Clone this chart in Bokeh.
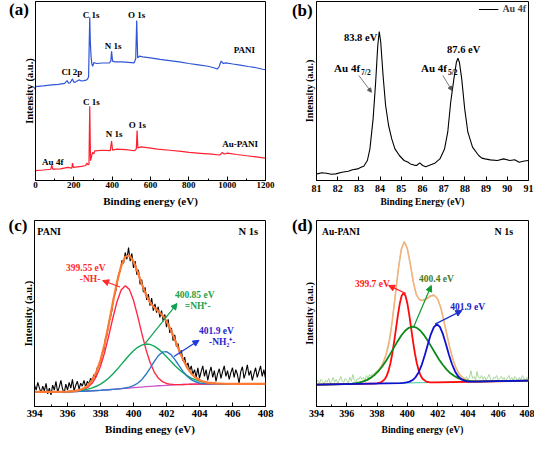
import numpy as np
from bokeh.plotting import figure
from bokeh.layouts import row, column
from bokeh.models import Label, Arrow, NormalHead, FixedTicker, SingleIntervalTicker, Range1d
from bokeh.embed import file_html
from bokeh.resources import INLINE

FONT = "Liberation Serif"

# ---------------- (a) XPS survey ----------------
pani_e = [0, 40, 85, 120, 152, 165, 172, 180, 193, 200, 210, 227, 240, 252, 265, 272, 277, 283, 286, 290,
          294, 298, 305, 318, 350, 385, 393, 397, 402, 415, 452, 515, 523, 528, 533, 543, 560, 600, 650, 700,
          750, 800, 850, 900, 930, 948, 958, 968, 980, 993, 1030, 1068, 1110, 1152, 1185, 1200]
pani_i = [95, 95.6, 96.7, 97.2, 98.3, 101, 98.5, 98.6, 102.7, 99.2, 99.8, 101.7, 100.6, 101, 101.5, 102.7, 105, 165, 140, 125,
          118, 115.5, 119.3, 118.3, 118.8, 119, 120.7, 130.7, 120.7, 120, 120, 119, 123.3, 161.7, 124, 125.7, 125, 124, 122.5, 121.3,
          120, 118.3, 117, 115.5, 114, 112.7, 115, 120.7, 118.3, 119, 117.8, 116.7, 115.3, 114, 112.5, 112]
aupani_e = [0, 40, 80, 85, 90, 130, 168, 190, 193, 198, 240, 262, 268, 274, 279, 283, 287, 293, 298, 304,
            310, 350, 390, 397, 402, 425, 470, 518, 526, 530, 534, 552, 600, 635, 700, 760, 802, 860, 920, 958,
            966, 973, 985, 1002, 1050, 1102, 1150, 1200]
aupani_i = [10, 10.6, 11.4, 15.5, 11.6, 11.8, 13.3, 12.6, 17.5, 13.2, 14.3, 15.2, 17.7, 15.8, 16.7, 75, 20, 25, 28.3, 27,
            30, 30.6, 30.2, 40, 30.7, 31.7, 31.2, 30.1, 32, 50.5, 33, 34, 32.8, 31.8, 30.6, 29.4, 28.4, 27.5, 26.6, 25.8,
            26.4, 28.3, 26.8, 27.7, 26.3, 25, 23.9, 22.6]
a_ticks_interval = 200

# ---------------- (b) Au 4f ----------------
au4f_e = [81.03, 81.25, 81.47, 81.7, 81.91, 82.2, 82.5, 82.7, 82.94, 83.1, 83.23, 83.4, 83.52, 83.67, 83.79,
          83.89, 83.96, 84.03, 84.14, 84.26, 84.4, 84.55, 84.7, 84.91, 85.13, 85.3, 85.43, 85.6, 85.72, 85.87,
          86.01, 86.15, 86.3, 86.45, 86.6, 86.82, 87.04, 87.19, 87.33, 87.48, 87.6, 87.67, 87.74, 87.85, 87.99,
          88.14, 88.36, 88.65, 88.8, 88.95, 89.2, 89.53, 89.83, 90.12, 90.35, 90.56, 90.8, 91.0]
au4f_i = [6.6, 7.8, 7.3, 6.2, 6.6, 8.3, 9.3, 10.8, 11.6, 13.2, 14.3, 20, 31.6, 61.6, 98.3,
          135, 149, 138.3, 105, 75, 55, 41.6, 31.6, 25, 20, 18.5, 16.6, 15.4, 15, 17.6,
          15, 13.8, 15, 16.2, 17.6, 21.6, 31.6, 48.3, 78.3, 101.6, 118.3, 122.3, 118.3, 101.6, 71.6,
          48.3, 33.3, 25, 22.4, 21.6, 20.6, 20, 21.6, 20, 20.8, 18.3, 19.5, 20]

# ---------------- (c) PANI N 1s ----------------
c_fit_e = [394, 395, 396, 396.5, 396.75, 397, 397.25, 397.5, 397.75, 398, 398.25, 398.5, 398.75, 399, 399.25,
           399.5, 399.75, 400, 400.25, 400.5, 400.75, 401, 401.25, 401.5, 401.75, 402, 402.25, 402.5, 402.75, 403,
           403.25, 403.5, 403.75, 404, 404.25, 404.5, 405, 405.5, 406, 407, 408]
c_base = [15.0, 15.1, 15.3, 15.5, 15.6, 15.8, 16.0, 16.2, 16.45, 16.7, 17.0, 17.3, 17.65, 18.0, 18.35,
          18.7, 19.05, 19.4, 19.75, 20.1, 20.45, 20.8, 21.1, 21.4, 21.65, 21.9, 22.1, 22.3, 22.5, 22.7,
          22.85, 23.0, 23.1, 23.2, 23.25, 23.3, 23.4, 23.4, 23.4, 23.4, 23.4]
c_red = [15.0, 15.1, 15.3, 15.8, 16.4, 17.7, 20.0, 24.2, 31.2, 41.5, 55.7, 72.9, 91.4, 108.2, 120.2,
         124.7, 120.9, 109.6, 93.5, 75.7, 59.2, 45.6, 35.8, 29.4, 25.7, 23.8, 22.9, 22.6, 22.6, 22.7,
         22.85, 23.0, 23.1, 23.2, 23.25, 23.3, 23.4, 23.4, 23.4, 23.4, 23.4]
c_green = [15.0, 15.1, 15.3, 15.9, 16.3, 17.0, 17.9, 19.2, 20.9, 23.1, 25.9, 29.4, 33.6, 38.1, 43.2,
           48.2, 53.2, 57.5, 61.1, 63.4, 64.5, 64.1, 62.4, 59.5, 55.8, 51.4, 46.9, 42.4, 38.4, 34.8,
           31.8, 29.4, 27.5, 26.2, 25.2, 24.5, 23.8, 23.5, 23.4, 23.4, 23.4]
c_blue = [15.0, 15.1, 15.3, 15.5, 15.6, 15.8, 16.0, 16.2, 16.45, 16.7, 17.0, 17.3, 17.65, 18.0, 18.5,
          19.1, 20.0, 21.5, 24.0, 27.7, 33.0, 39.4, 46.3, 52.3, 56.1, 56.6, 53.9, 48.7, 42.4, 36.3,
          31.3, 27.7, 25.5, 24.3, 23.7, 23.5, 23.4, 23.4, 23.4, 23.4, 23.4]
c_env = [15.0, 15.1, 15.4, 16.2, 17.1, 18.9, 21.9, 27.2, 35.6, 47.9, 64.6, 85.0, 107.3, 128.4, 145.1,
         154.6, 155.9, 149.8, 139.0, 126.6, 115.7, 107.5, 102.3, 98.4, 94.2, 88.0, 79.5, 69.1, 58.4, 48.4,
         40.2, 34.1, 29.9, 27.3, 25.6, 24.7, 23.8, 23.5, 23.4, 23.4, 23.4]
c_raw = [22, 17, 25, 19, 14, 21, 16, 24, 13, 19,
         12, 22, 17, 26, 15, 20, 27, 18, 14, 23,
         17, 25, 19, 28, 16, 22, 26, 18, 24, 21,
         27, 20, 26, 23, 29, 27, 33, 30, 40, 42,
         46, 55, 58, 70, 74, 87, 92, 100, 113, 117,
         126, 137, 140, 151, 148, 159, 152, 164, 150, 158,
         143, 150, 136, 141, 126, 131, 118, 123, 110, 116,
         104, 112, 99, 106, 97, 103, 92, 99, 88, 95,
         82, 90, 76, 81, 68, 74, 62, 65, 54, 58,
         47, 51, 41, 45, 37, 42, 33, 38, 30, 40,
         29, 36, 42, 31, 38, 27, 35, 41, 30, 37,
         26, 34, 39, 29, 36, 42, 31, 37, 28, 35,
         40, 30, 38, 33, 24, 36, 41, 29, 35, 43,
         32, 37, 27, 34, 40, 30, 36, 42, 31, 38,
         29]

# ---------------- (d) Au-PANI N 1s ----------------
d_red_e = [394, 397.5, 397.75, 398, 398.25, 398.5, 398.625, 398.75, 398.875, 399, 399.125, 399.25, 399.375,
           399.5, 399.625, 399.75, 399.875, 400, 400.125, 400.25, 400.375, 400.5, 400.625, 400.75, 400.875,
           401, 401.25, 401.5, 401.75, 402, 408]
d_red = [22.5, 23.55, 23.6, 23.9, 24.8, 28.0, 31.3, 36.5, 44.1, 54.2, 66.7, 80.5, 94.3,
         106.3, 114.3, 117.2, 114.4, 106.4, 94.6, 80.8, 67.0, 54.7, 44.6, 37.1, 32.0,
         28.7, 25.7, 24.95, 24.8, 24.9, 26.7]
d_green_e = [394, 395.85, 396.1, 396.35, 396.6, 396.85, 397.1, 397.35, 397.6, 397.85, 398.1, 398.35, 398.6,
             398.85, 399.1, 399.35, 399.6, 399.85, 400.1, 400.35, 400.6, 400.85, 401.1, 401.35, 401.6, 401.85,
             402.1, 402.35, 402.6, 402.85, 403.1, 403.35, 403.6, 403.85, 404.1, 404.35, 404.6, 404.85, 408]
d_green = [22.5, 23.2, 23.4, 23.7, 24.2, 24.9, 25.9, 27.5, 29.8, 32.8, 36.7, 41.6, 47.3,
           53.8, 60.5, 67.2, 73.3, 78.2, 81.2, 82.4, 81.4, 78.5, 73.7, 67.8, 61.3, 54.7,
           48.3, 42.8, 38.1, 34.3, 31.4, 29.3, 27.9, 27.0, 26.4, 26.1, 26.0, 25.9, 26.7]
d_blue_e = [394, 399.55, 399.75, 399.95, 400.15, 400.35, 400.55, 400.75, 400.95, 401.15, 401.35, 401.55, 401.75,
            401.95, 402.15, 402.35, 402.55, 402.75, 402.95, 403.15, 403.35, 403.55, 403.75, 403.95, 404.15,
            404.35, 408]
d_blue = [22.5, 24.2, 24.4, 24.8, 25.7, 27.3, 30.4, 35.4, 43.0, 52.8, 63.9, 74.5, 82.0,
          84.9, 82.2, 74.7, 64.3, 53.2, 43.6, 36.2, 31.2, 28.3, 26.7, 26.0, 25.75,
          25.7, 26.7]
d_base_e = [394, 401, 408]
d_base = [22.5, 24.6, 26.7]
d_env = [22.5, 22.8,
         23.3, 23.5, 23.8, 24.2, 24.7, 25.5, 26.5, 27.9, 29.8, 32.2,
         35.2, 39.3, 45.0, 53.9, 67.7, 88.0, 114.1, 141.3, 162.2, 170.0,
         163.0, 146.5, 128.0, 115.0, 110.5, 109.5, 110.5, 112.5, 114.5, 114.5,
         111.0, 102.5, 89.5, 75.0, 60.8, 49.0, 40.0, 34.0, 30.3, 28.1,
         27.0, 26.4, 26.1, 26.0, 25.9, 25.9,
         26.1, 26.4, 26.7]
d_raw = [25, 27, 24, 28, 26, 23, 27, 25, 29, 24,
         26, 30, 25, 28, 24, 27, 31, 26, 25, 29,
         27, 24, 30, 26, 33, 27, 25, 29, 28, 31,
         28, 30, 27, 32, 29, 33, 31, 34, 33, 36,
         37, 38, 41, 42, 46, 49, 54, 59, 65, 75,
         88, 101, 114, 128, 141, 152, 162, 167, 170, 167,
         163, 155, 147, 137, 128, 121, 116, 112, 110, 109,
         110, 111, 110, 113, 112, 115, 114, 116, 114, 113,
         111, 106, 102, 96, 89, 82, 75, 68, 61, 55,
         50, 45, 41, 38, 35, 33, 31, 30, 29, 31,
         28, 30, 37, 29, 31, 27, 36, 30, 29, 32,
         28, 31, 27, 30, 33, 28, 26, 30, 29, 32,
         27, 29, 31, 28, 30, 26, 29, 32, 28, 30,
         27, 31, 29, 26, 30, 28, 32, 29, 27, 30,
         28]

raw_e = np.round(np.arange(394.0, 408.05, 0.1), 1)
d_env_e = np.concatenate([[394, 395], np.round(np.arange(396.0, 405.05, 0.2), 1), [406, 407, 408]])


def make(w, h, xr, yr, bl, br, bt, bb):
    p = figure(width=w, height=h, x_range=Range1d(*xr), y_range=Range1d(*yr),
               output_backend="svg", toolbar_location=None,
               min_border_left=bl, min_border_right=br, min_border_top=bt, min_border_bottom=bb)
    p.grid.visible = False
    p.outline_line_color = "black"
    p.outline_line_alpha = 1.0
    p.outline_line_width = 1
    p.background_fill_color = "white"
    p.border_fill_color = "white"
    return p


def style(p, xlabel, interval, minor, tick_px, tick_sd, title_px, title_sd, ylab_px, ylab_sd):
    ax = p.xaxis[0]
    ax.ticker = SingleIntervalTicker(interval=interval, num_minor_ticks=minor)
    ax.major_tick_in = 4
    ax.major_tick_out = 0
    ax.minor_tick_in = 2
    ax.minor_tick_out = 0
    ax.axis_line_color = "black"
    ax.major_tick_line_color = "black"
    ax.minor_tick_line_color = "black" if minor else None
    ax.major_label_text_font = FONT
    ax.major_label_text_font_style = "bold"
    ax.major_label_text_font_size = f"{tick_px}px"
    ax.major_label_text_color = "black"
    ax.major_label_standoff = int(tick_sd)
    ax.axis_label = xlabel
    ax.axis_label_text_font = FONT
    ax.axis_label_text_font_style = "bold"
    ax.axis_label_text_font_size = f"{title_px}px"
    ax.axis_label_text_color = "black"
    ax.axis_label_standoff = int(title_sd)
    ay = p.yaxis[0]
    ay.ticker = FixedTicker(ticks=[])
    ay.major_tick_in = 0
    ay.major_tick_out = 0
    ay.minor_tick_in = 0
    ay.minor_tick_out = 0
    ay.major_label_standoff = 0
    ay.major_label_text_font_size = "0px"
    ay.axis_line_color = "black"
    ay.axis_label = "Intensity (a.u.)"
    ay.axis_label_text_font = FONT
    ay.axis_label_text_font_style = "bold"
    ay.axis_label_text_font_size = f"{ylab_px}px"
    ay.axis_label_text_color = "black"
    ay.axis_label_standoff = int(ylab_sd)


def txt(p, x, y, s, size, color="black", align="center", xo=0, yo=0):
    p.add_layout(Label(x=x, y=y, text=s, text_font=FONT, text_font_style="bold",
                       text_font_size=f"{size}px", text_color=color, text_align=align,
                       text_baseline="middle", x_offset=xo, y_offset=yo))


def panel_tag(p, x, y, s, side="left"):
    # a label kept in a side panel is not clipped to the plot frame
    p.add_layout(Label(x=x, y=y, text=s, text_font=FONT,
                       text_font_style="bold", text_font_size="17px", text_color="black",
                       text_align="center", text_baseline="middle"), side)


def arrow(p, x0, y0, x1, y1, color, width=1.2, size=6):
    p.add_layout(Arrow(end=NormalHead(size=size, fill_color=color, line_color=color),
                       x_start=x0, y_start=y0, x_end=x1, y_end=y1,
                       line_color=color, line_width=width))


# ---- panel (a)
pa = make(279, 216, (0, 1200), (0, 181), 25, 14, 1, 34)
style(pa, "Binding energy (eV)", a_ticks_interval, 2, 9, 1, 11, 4, 10.5, 1)
pa.line(pani_e, pani_i, line_color="#2f55d6", line_width=1.2)
pa.line(aupani_e, aupani_i, line_color="#ff1f2f", line_width=1.2)
for (x, y, s) in [(290, 167, "C 1s"), (528, 167, "O 1s"), (405, 136, "N 1s"), (190, 110, "Cl 2p"),
                  (1090, 132, "PANI"), (292, 79, "C 1s"), (410, 47, "N 1s"), (532, 56, "O 1s"),
                  (1068, 37, "Au-PANI"), (90, 19, "Au 4f")]:
    txt(pa, x, y, s, 9)
panel_tag(pa, -86, 172.5, "(a)")

# ---- panel (b)
pb = make(255, 216, (81, 91), (0, 179), 26, 6, 1, 36)
style(pb, "Binding Energy (eV)", 1, 0, 10, 4, 9.5, 2, 10, 2)
pb.line(au4f_e, au4f_i, line_color="black", line_width=1.1, legend_label="Au 4f")
lg = pb.legend[0]
lg.location = "top_right"
lg.border_line_color = None
lg.background_fill_alpha = 0
lg.margin = 2
lg.padding = 2
lg.glyph_width = 20
lg.glyph_height = 10
lg.label_height = 10
lg.label_standoff = 4
lg.label_text_font = FONT
lg.label_text_font_style = "bold"
lg.label_text_font_size = "10px"
txt(pb, 83.08, 143.3, "83.8 eV", 10.5)
txt(pb, 87.94, 131.3, "87.6 eV", 10.5)
txt(pb, 81.83, 112.3, "Au 4f", 11, align="left")
txt(pb, 81.83, 112.3, "7/2", 7.5, align="left", xo=27, yo=-4)
txt(pb, 85.93, 112.3, "Au 4f", 11, align="left")
txt(pb, 85.93, 112.3, "5/2", 7.5, align="left", xo=27, yo=-4)
arrow(pb, 83.0, 105, 83.59, 88.3, "#555555", width=0.8, size=4)
arrow(pb, 86.96, 105, 87.39, 90, "#555555", width=0.8, size=4)
panel_tag(pb, 80.33, 170.5, "(b)")

# ---- panel (c)
pc = make(279, 224, (394, 408), (0, 192), 22, 14, 4, 34)
style(pc, "Binding enegy (eV)", 2, 2, 10.5, 3, 11, 3, 10.5, 1)
pc.line(raw_e, c_raw, line_color="black", line_width=1.1)
pc.line(c_fit_e, c_base, line_color="#cc55cc", line_width=1.3)
pc.line(c_fit_e, c_red, line_color="#ff2845", line_width=1.4)
pc.line(c_fit_e, c_green, line_color="#12a85a", line_width=1.4)
pc.line(c_fit_e, c_blue, line_color="#2a78c8", line_width=1.4)
pc.line(c_fit_e, c_env, line_color="#ff7a30", line_width=2.2)
txt(pc, 394.17, 180.3, "PANI", 10, align="left")
txt(pc, 406.96, 180.3, "N 1s", 10.5)
txt(pc, 397.11, 143.3, "399.55 eV", 9.5, "#ff2a2a")
txt(pc, 397.37, 131.3, "-NH-", 9.5, "#ff2a2a")
arrow(pc, 399.18, 123.3, 398.13, 130, "#ff2a2a")
txt(pc, 403.71, 115.3, "400.85 eV", 9.5, "#1fa04a")
txt(pc, 403.89, 103.3, "=NH\u207a-", 9.5, "#1fa04a")
arrow(pc, 400.72, 65.3, 402.64, 106.3, "#10a050")
txt(pc, 405.03, 78.3, "401.9 eV", 9.5, "#2525d0")
txt(pc, 405.38, 66.3, "-NH\u2082\u207a-", 9.5, "#2525d0")
arrow(pc, 402.45, 51.6, 403.97, 68.3, "#1a3ae0")
panel_tag(pc, 393.0, 186.8, "(c)")

# ---- panel (d)
pd_ = make(255, 224, (394, 408), (0, 192), 26, 6, 4, 34)
style(pd_, "Binding energy (eV)", 2, 2, 10, 3, 9.5, 5, 10, 2)
pd_.line(raw_e, d_raw, line_color="#a8d898", line_width=1.0)
pd_.line(d_env_e, d_env, line_color="#f6b27c", line_width=1.6)
pd_.line(d_base_e, d_base, line_color="#3cc8a0", line_width=1.0)
pd_.line(d_red_e, d_red, line_color="#ff0a0a", line_width=1.8)
pd_.line(d_green_e, d_green, line_color="#0a8a1a", line_width=1.8)
pd_.line(d_blue_e, d_blue, line_color="#1010d0", line_width=1.8)
txt(pd_, 394.37, 180.6, "Au-PANI", 9.5, align="left")
txt(pd_, 406.37, 180.6, "N 1s", 10)
txt(pd_, 397.69, 126.6, "399.7 eV", 9.5, "#ff1a1a")
arrow(pd_, 399.9, 116.6, 398.76, 125, "#ff2020")
txt(pd_, 401.92, 131.6, "400.4 eV", 9.5, "#4d7a1e")
arrow(pd_, 400.4, 81.6, 401.58, 125, "#109a30")
txt(pd_, 403.98, 102.6, "401.9 eV", 9.5, "#2020c8")
arrow(pd_, 401.83, 85, 403.6, 99, "#1a30d0")
panel_tag(pd_, 393.06, 186.8, "(d)")

layout = column(row(pa, pb), row(pc, pd_))
open("out.html", "w").write(file_html(layout, INLINE))
